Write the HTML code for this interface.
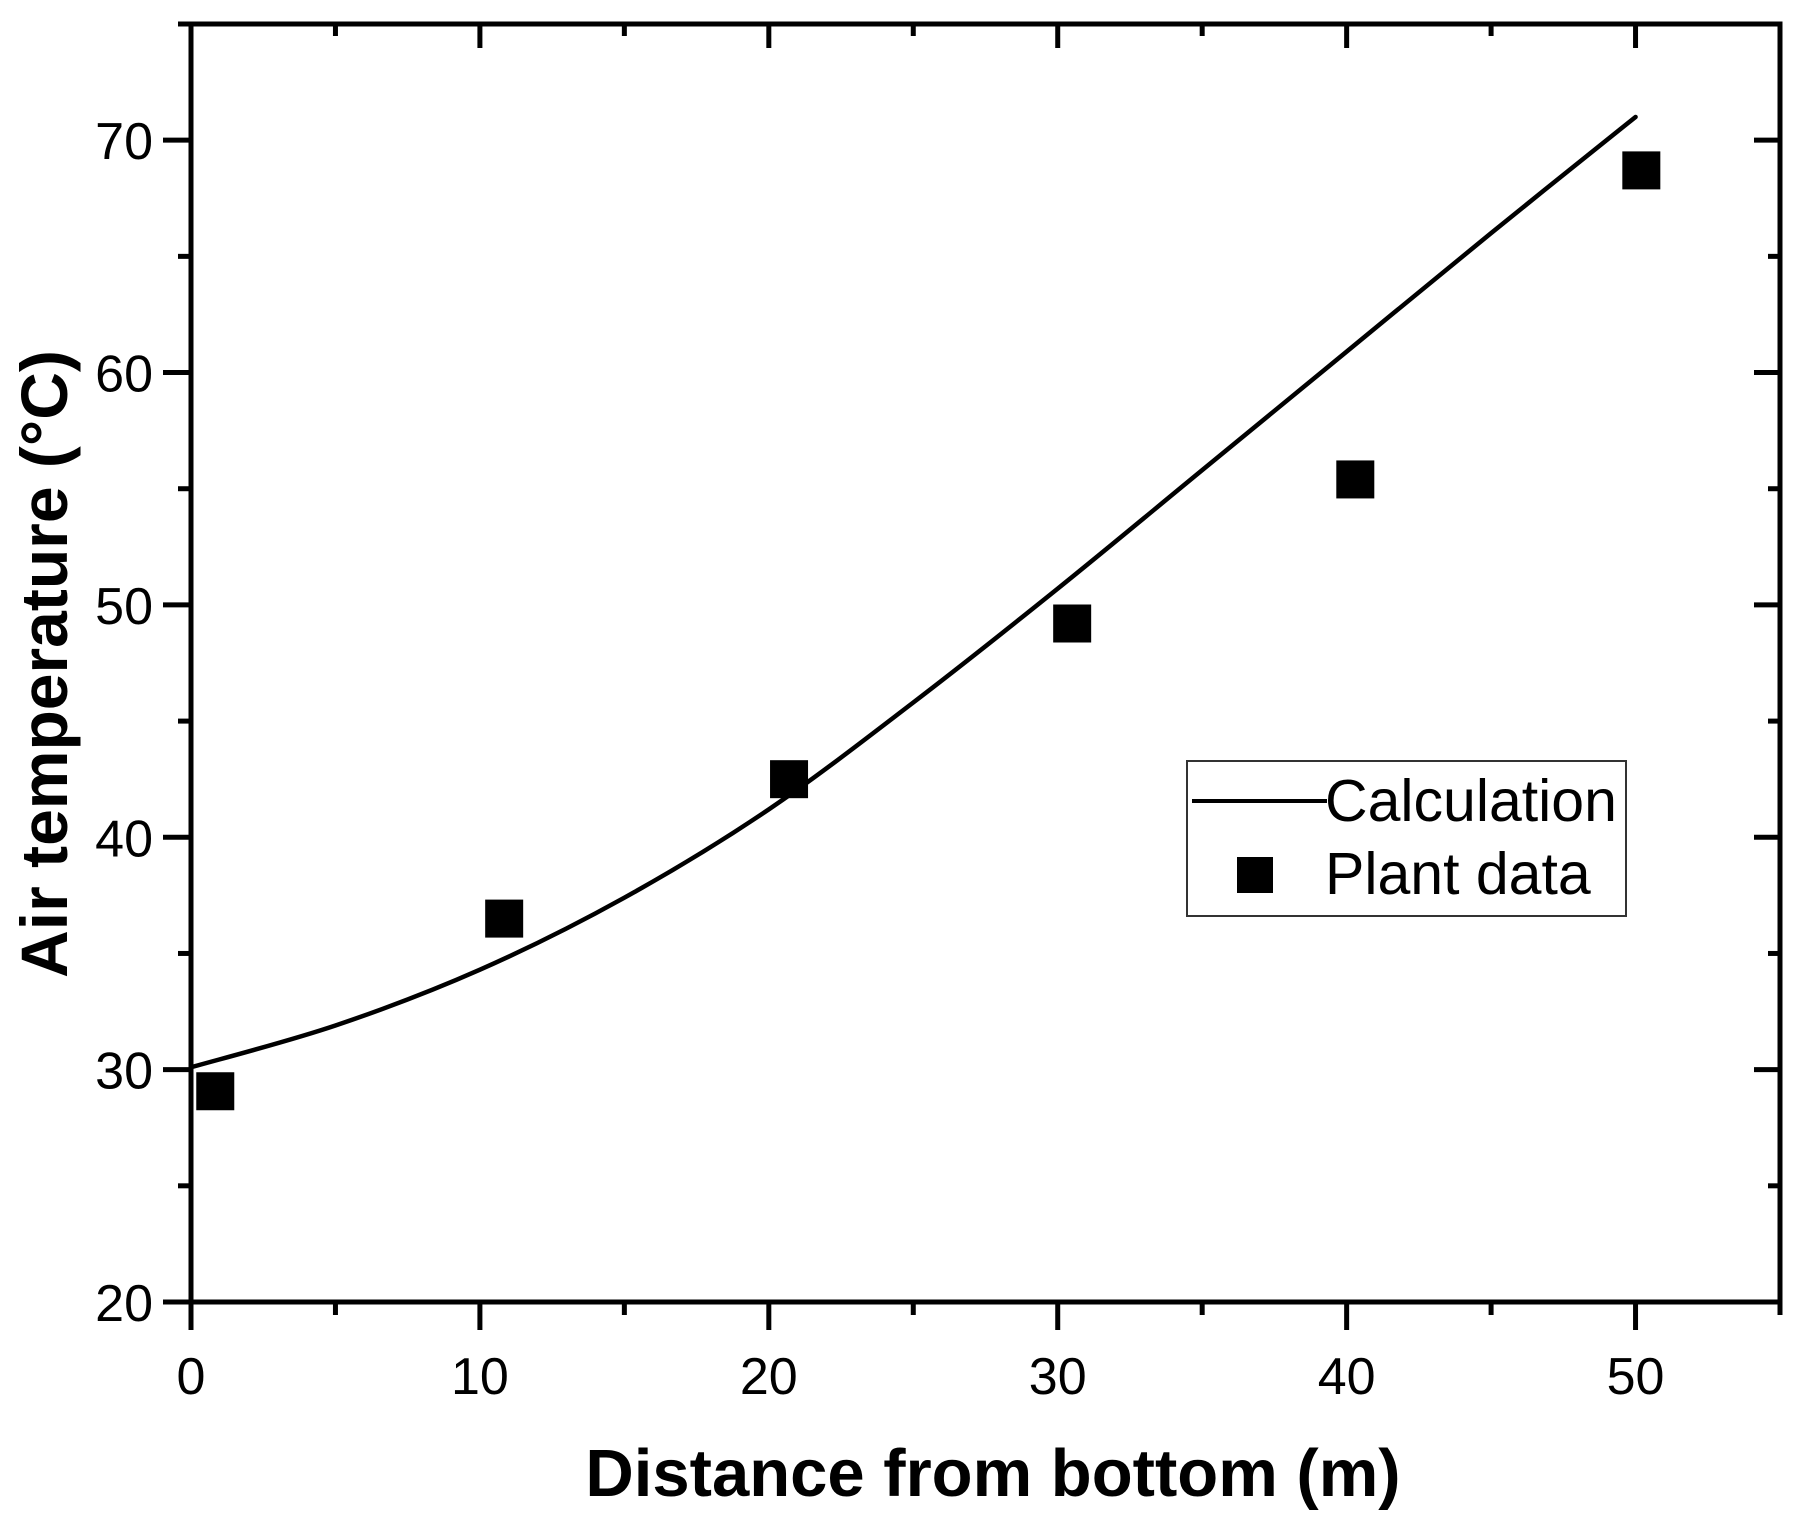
<!DOCTYPE html>
<html><head><meta charset="utf-8"><style>
html,body{margin:0;padding:0;background:#fff;}
svg{display:block;font-family:"Liberation Sans",Arial,sans-serif;}
</style></head><body>
<svg id="chart" width="1802" height="1524" viewBox="0 0 1802 1524">
<g id="axes"></g>
<g id="marks"></g>
<text x="993" y="1496" text-anchor="middle" font-size="67" font-weight="bold">Distance from bottom (m)</text>
<text transform="translate(67,664) rotate(-90)" text-anchor="middle" font-size="66" font-weight="bold">Air temperature (°C)</text>
<g>
<rect x="1187" y="761" width="439" height="155" fill="#fff" stroke="#333" stroke-width="2"/>
<line x1="1192" y1="801" x2="1327" y2="801" stroke="#000" stroke-width="4"/>
<text x="1325" y="821" font-size="59">Calculation</text>
<rect x="1237" y="857" width="36" height="36" fill="#000"/>
<text x="1325" y="894" font-size="59">Plant data</text>
</g>
</svg>
<script>
const xTicks = [0,10,20,30,40,50];
const yTicks = [20,30,40,50,60,70];
const calcX = [0,5,10,15,20,25,30,35,40,45,50];
const calcY = [30.1,31.9,34.3,37.4,41.2,45.8,50.7,55.8,60.9,66.0,71.0];
const plantX = [0.84,10.84,20.7,30.5,40.3,50.2];
const plantY = [29.07,36.5,42.5,49.2,55.4,68.7];

const L=191,R=1780,T=24,B=1302;
const xMin=0,xMax=55,yMin=20,yMax=75;
const sx=v=>L+(v-xMin)/(xMax-xMin)*(R-L);
const sy=v=>B-(v-yMin)/(yMax-yMin)*(B-T);
const NS="http://www.w3.org/2000/svg";
const axes=document.getElementById('axes');
const marks=document.getElementById('marks');
function mk(tag,attrs,parent){const e=document.createElementNS(NS,tag);for(const k in attrs)e.setAttribute(k,attrs[k]);parent.appendChild(e);return e;}

const frame=mk('rect',{x:L,y:T,width:R-L,height:B-T,fill:'none',stroke:'#000','stroke-width':5},axes);



for(let v=0;v<=55;v+=5){
  const major=v%10===0;
  const x=sx(v);
  const t=mk('line',{x1:x,x2:x,y1:B,y2:B+(major?28:13),stroke:'#000','stroke-width':5},axes);
  
  
  const t2=mk('line',{x1:x,x2:x,y1:T,y2:T+(major?24:12),stroke:'#000','stroke-width':5},axes);
  
  
}
for(let v=20;v<=75;v+=5){
  const major=v%10===0;
  const y=sy(v);
  const t=mk('line',{x1:L-(major?28:13),x2:L,y1:y,y2:y,stroke:'#000','stroke-width':5},axes);
  
  
  const t2=mk('line',{x1:R-(major?26:12),x2:R,y1:y,y2:y,stroke:'#000','stroke-width':5},axes);
  
  
}
xTicks.forEach(v=>{
  const t=mk('text',{x:sx(v),y:1394,'text-anchor':'middle','font-size':52},axes);
  t.textContent=v;
  
  
});
yTicks.forEach(v=>{
  const t=mk('text',{x:153,y:sy(v)+19,'text-anchor':'end','font-size':52},axes);
  t.textContent=v;
  
  
});

const pts=calcX.map((x,i)=>[sx(x),sy(calcY[i])]);
let d='M'+pts[0][0]+','+pts[0][1];
for(let i=0;i<pts.length-1;i++){
  const p0=pts[Math.max(0,i-1)],p1=pts[i],p2=pts[i+1],p3=pts[Math.min(pts.length-1,i+2)];
  const c1=[p1[0]+(p2[0]-p0[0])/6,p1[1]+(p2[1]-p0[1])/6];
  const c2=[p2[0]-(p3[0]-p1[0])/6,p2[1]-(p3[1]-p1[1])/6];
  d+=' C'+c1+' '+c2+' '+p2;
}
const line=mk('path',{d:d,fill:'none',stroke:'#000','stroke-width':4.5,'stroke-linecap':'round'},marks);



plantX.forEach((x,i)=>{
  const s=38;
  const r=mk('rect',{x:sx(x)-s/2,y:sy(plantY[i])-s/2,width:s,height:s,fill:'#000'},marks);
  
  
});
</script>
</body></html>
